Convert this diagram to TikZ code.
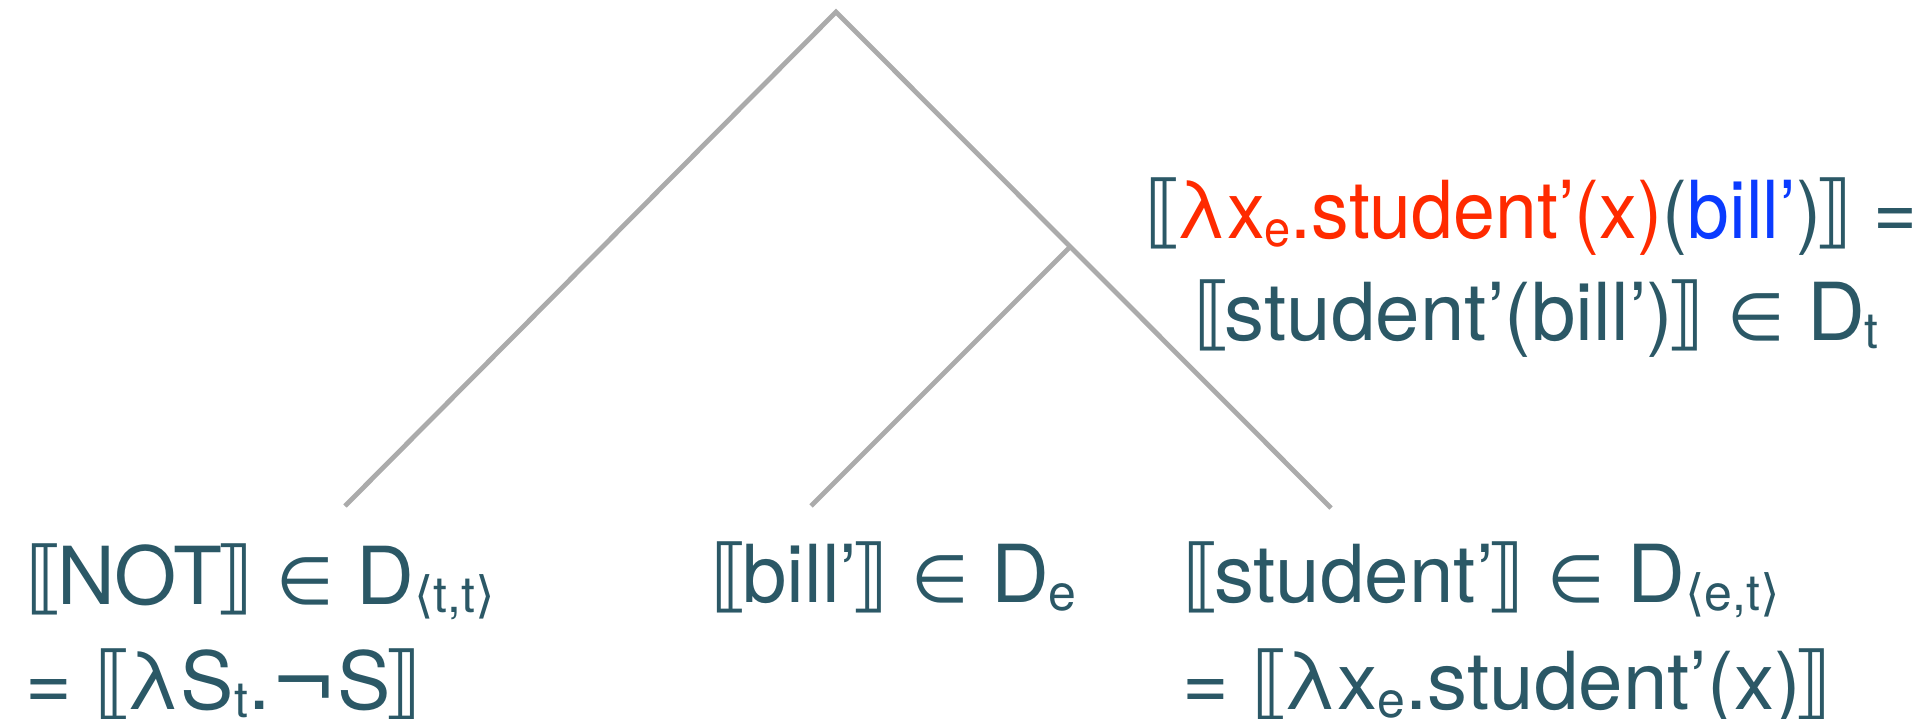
\documentclass[tikz,border=0pt]{standalone}
\usepackage{fontspec}
\setmainfont{TeX Gyre Heros}
\newfontfamily\narrowf{TeX Gyre Heros}[FakeStretch=0.94]
\newfontfamily\symf{DejaVu Sans}
\definecolor{tealtxt}{HTML}{2B5866}
\definecolor{redtxt}{HTML}{FF2A00}
\definecolor{bluetxt}{HTML}{0A3BFF}
\definecolor{edgegray}{HTML}{ABABAB}
\newcommand\lb{{\symf ⟦}\kern-0.1em}
\newcommand\rb{\kern-0.1em{\symf ⟧}}
\newcommand\inn{{\symf\fontsize{33}{33}\selectfont ∈}}
\newcommand\lsub[1]{\raisebox{-0.1em}{\fontsize{25}{25}\selectfont #1}}
\newcommand\la{{\symf ⟨}}
\newcommand\ra{{\symf ⟩}}
\tikzset{
  lbl/.style={inner sep=0pt, text=tealtxt, font=\fontsize{40}{48}\selectfont},
  edge/.style={draw=edgegray, line width=2.4pt}
}
\begin{document}
\begin{tikzpicture}[x=0.5pt,y=-0.5pt]
\useasboundingbox (0,0) rectangle (1931,718);
\coordinate (top) at (836,12);
\coordinate (mid) at (1069,248);
\coordinate (lb) at (345,506);
\coordinate (mb) at (811,506);
\coordinate (rb) at (1331,508);
\draw[edge] (lb) -- (top) -- (rb);
\draw[edge] (mb) -- (mid);
\node[lbl, anchor=base west] (notA) at (25,604) {\lb NOT\rb\ \inn\ D\lsub{\la t,t\ra}};
\node[lbl, anchor=base west] (notB) at (25,709) {= \lb λS\lsub{t}.{\symf ¬}S\rb};
\node[lbl, anchor=base west] (bill) at (710,602) {\lb bill’\rb\ \inn\ D\lsub{e}};
\node[lbl, anchor=base west] (stA) at (1182,602) {\lb student’\rb\ \inn\ D\lsub{\la e,t\ra}};
\node[lbl, anchor=base west] (stB) at (1182,709) {= \lb λx\lsub{e}.student’(x)\rb};
\node[lbl, anchor=base east] (topA) at (1918,238) {\narrowf\lb\textcolor{redtxt}{λx\lsub{e}.student’(x)}(\textcolor{bluetxt}{bill’})\rb\ =};
\node[lbl, anchor=base] (topB) at (1536,340) {\lb student’(bill’)\rb\ \inn\ D\lsub{t}};
\end{tikzpicture}
\end{document}
